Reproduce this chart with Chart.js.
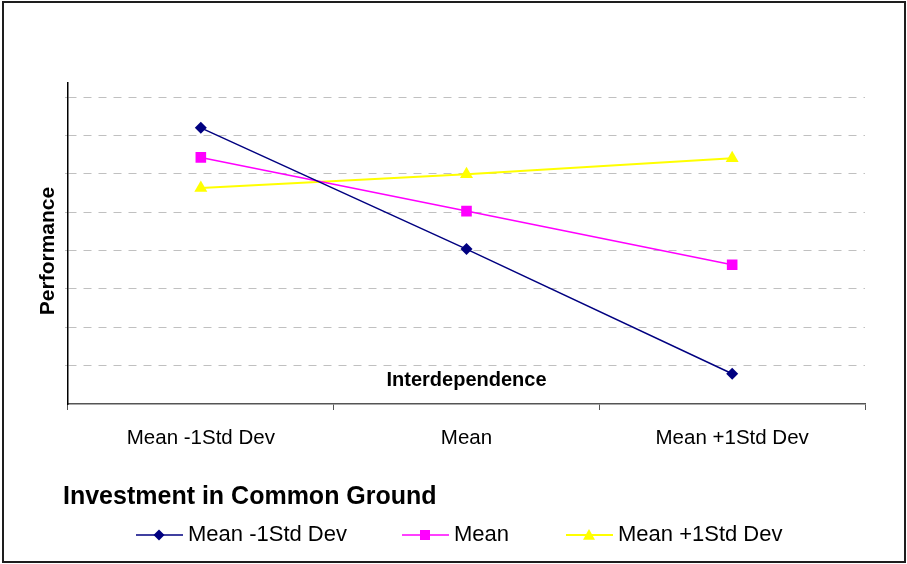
<!DOCTYPE html>
<html>
<head>
<meta charset="utf-8">
<script src="https://cdn.jsdelivr.net/npm/chart.js@4.4.0/dist/chart.umd.min.js"></script>
<style>
  html, body { margin: 0; padding: 0; background: #fff; }
  #wrap { position: relative; width: 907px; height: 564px; }
</style>
</head>
<body>
<div id="wrap"><canvas id="lineChart" width="907" height="564"></canvas></div>
<script>
// values (one grid step = 1 unit)
const categories = ["Mean -1Std Dev", "Mean", "Mean +1Std Dev"];
const seriesNames = ["Mean -1Std Dev", "Mean", "Mean +1Std Dev"];
const lowCommonGround = [7.20, 4.04, 0.79];
const meanCommonGround = [6.43, 5.03, 3.63];
const highCommonGround = [5.63, 5.99, 6.41];
const yMin = 0;
const yMax = 8.37;
const yStep = 1;

const yTitle = "Performance";
const xTitle = "Interdependence";
const legendTitle = "Investment in Common Ground";

const FONT = "'Liberation Sans', Arial, sans-serif";
Chart.defaults.font.family = FONT;

const colors = ["#000080", "#ff00ff", "#ffff00"];
const markers = ["rectRot", "rect", "triangle"];

const drawMarker = (ctx, style, x, y, r) => {
    ctx.beginPath();
    if (style === "rectRot") {
        ctx.moveTo(x, y - r); ctx.lineTo(x + r, y); ctx.lineTo(x, y + r); ctx.lineTo(x - r, y);
    } else if (style === "rect") {
        ctx.rect(x - r, y - r, 2 * r, 2 * r);
    } else {
        ctx.moveTo(x, y - r); ctx.lineTo(x + r, y + r * 0.8); ctx.lineTo(x - r, y + r * 0.8);
    }
    ctx.closePath();
    ctx.fill();
}

/* titles, legend and outer frame */
const extras = {
    id: "extras",
    afterDraw(chart) {
        const ctx = chart.ctx;
        const area = chart.chartArea;
        ctx.save();
        ctx.fillStyle = "#000";

        // x title sits inside the plot, just above the axis
        ctx.font = "bold 20px " + FONT;
        ctx.textAlign = "center";
        ctx.textBaseline = "alphabetic";
        ctx.fillText(xTitle, (area.left + area.right) / 2, 386);

        // y title
        ctx.save();
        ctx.translate(54, 251);
        ctx.rotate(-Math.PI / 2);
        ctx.font = "bold 21px " + FONT;
        ctx.fillText(yTitle, 0, 0);
        ctx.restore();

        // legend
        ctx.textAlign = "left";
        ctx.font = "bold 25px " + FONT;
        ctx.fillText(legendTitle, 63, 504);

        let itemX = [136, 402, 566];
        let sizes = [5.5, 5, 6];
        ctx.font = "22px " + FONT;
        chart.data.datasets.forEach((ds, i) => {
            let x0 = itemX[i];
            ctx.strokeStyle = ds.borderColor;
            ctx.lineWidth = ds.borderWidth;
            ctx.beginPath();
            ctx.moveTo(x0, 535);
            ctx.lineTo(x0 + 47, 535);
            ctx.stroke();
            ctx.fillStyle = ds.borderColor;
            drawMarker(ctx, markers[i], x0 + 23, 535, sizes[i]);
            ctx.fillStyle = "#000";
            ctx.fillText(ds.label, x0 + 52, 540.5);
        });

        // outer frame
        ctx.strokeStyle = "#1e1e1e";
        ctx.lineWidth = 2;
        ctx.strokeRect(3, 2, 902, 560);
        ctx.restore();
    }
};

const ctx = document.getElementById("lineChart").getContext("2d");

new Chart(ctx, {
    type: "line",
    data: {
        labels: categories,
        datasets: [{
            label: seriesNames[0],
            data: lowCommonGround,
            borderColor: colors[0],
            backgroundColor: colors[0],
            borderWidth: 1.5,
            pointStyle: "rectRot",
            pointRadius: 6,
            pointBorderWidth: 0
        }, {
            label: seriesNames[1],
            data: meanCommonGround,
            borderColor: colors[1],
            backgroundColor: colors[1],
            borderWidth: 1.5,
            pointStyle: "rect",
            pointRadius: 7.5,
            pointBorderWidth: 0
        }, {
            label: seriesNames[2],
            data: highCommonGround,
            borderColor: colors[2],
            backgroundColor: colors[2],
            borderWidth: 2,
            pointStyle: "triangle",
            pointRadius: 7.5,
            pointBorderWidth: 0
        }]
    },
    options: {
        responsive: false,
        animation: false,
        devicePixelRatio: 1,
        layout: { padding: { left: 60, right: 42, top: 83, bottom: 100 } },
        plugins: {
            legend: { display: false },
            tooltip: { enabled: false }
        },
        scales: {
            x: {
                offset: true,
                grid: { offset: true, drawOnChartArea: false, drawTicks: true, tickLength: 6, color: "#555" },
                border: { color: "#555", width: 1.5 },
                ticks: { color: "#000", font: { size: 20.5 }, padding: 16 },
                afterFit: (s) => { s.height = 60; }
            },
            y: {
                min: yMin,
                max: yMax,
                grid: {
                    color: (c) => c.tick && c.tick.value === 0 ? "rgba(0,0,0,0)" : "#c0c0c0",
                    lineWidth: 1,
                    tickLength: 3
                },
                border: { color: "#000", width: 1.5, dash: [8, 7] },
                ticks: { display: false, stepSize: yStep, includeBounds: false },
                afterFit: (s) => { s.width = 8; }
            }
        }
    },
    plugins: [extras]
});
</script>
</body>
</html>
